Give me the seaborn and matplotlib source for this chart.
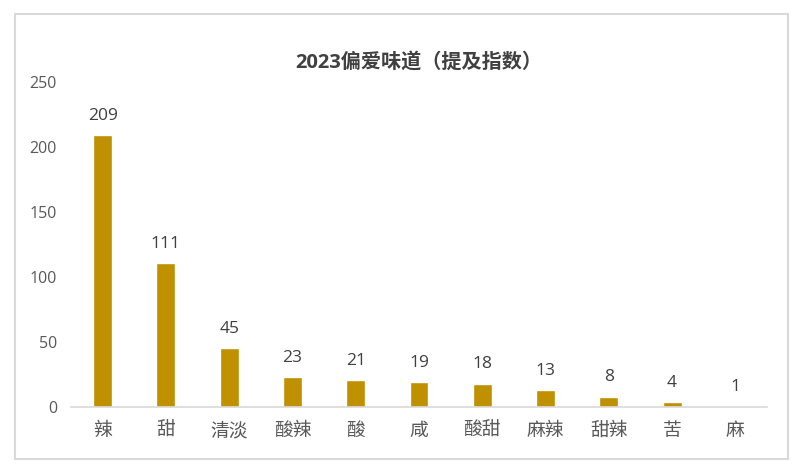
import matplotlib
matplotlib.use("Agg")
import matplotlib.pyplot as plt
import seaborn as sns
import pandas as pd
from matplotlib.patches import Rectangle

categories = ["辣", "甜", "清淡", "酸辣", "酸", "咸", "酸甜", "麻辣", "甜辣", "苦", "麻"]
values = [209, 111, 45, 23, 21, 19, 18, 13, 8, 4, 1]
y_ticks = [0, 50, 100, 150, 200, 250]
title = "2023偏爱味道（提及指数）"

sns.set_theme(style="white")
plt.rcParams['font.family'] = ['Open Sans', 'Noto Sans CJK SC', 'DejaVu Sans']

df = pd.DataFrame({"cat": categories, "val": values})

fig = plt.figure(figsize=(8.03, 4.75), dpi=100)
ax = fig.add_axes([0.0884, 0.1432, 0.8668, 0.6842])
sns.barplot(data=df, x="cat", y="val", color="#BF9000", saturation=1, width=0.3, ax=ax)

ax.set_ylim(0, 250)
ax.set_yticks(y_ticks)
ax.set_xlim(-0.5, len(categories) - 0.5)
ax.set_xlabel("")
ax.set_ylabel("")
for s in ["top", "right", "left"]:
    ax.spines[s].set_visible(False)
ax.spines["bottom"].set_color("#D9D9D9")
ax.spines["bottom"].set_linewidth(1.2)
ax.tick_params(axis="y", length=0, pad=10, labelsize=11.5, labelcolor="#595959")
ax.tick_params(axis="x", length=0, pad=11, labelsize=13.5, labelcolor="#595959")

for i, v in enumerate(values):
    ax.annotate(str(v), (i, v), xytext=(0, 8), textcoords="offset points",
                ha="center", va="bottom", fontsize=12.5, color="#404040")

fig.text(0.521, 0.868, title, ha="center", va="center", fontsize=14.5,
         fontweight="bold", color="#404040")

fig.patches.append(Rectangle((15 / 803, 1 - 459 / 475), 773 / 803, 445 / 475,
                             transform=fig.transFigure, fill=False,
                             edgecolor="#D9D9D9", linewidth=1.5))

fig.savefig("out.png", dpi=100)
